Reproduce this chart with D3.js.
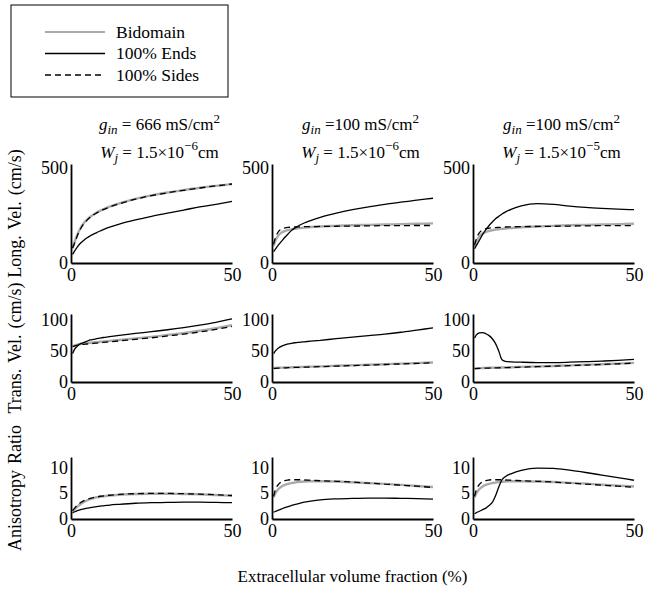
<!DOCTYPE html>
<html>
<head>
<meta charset="utf-8">
<script src="https://cdn.jsdelivr.net/npm/d3@7"></script>
<style>
  body { margin: 0; background: #fff; }
  svg, svg text { font-family: "Liberation Serif", "Times New Roman", serif; }
</style>
</head>
<body>
<svg id="chart" width="662" height="602"></svg>
<script>
// x grid shared by every curve (extracellular volume fraction, %)
const xGrid = [0.5, 1, 2, 3, 4, 5, 6, 7, 8, 9, 10, 12, 15, 20, 25, 30, 35, 40, 45, 50];

// row 1 : longitudinal velocity (cm/s), one array per column
const longBidomain = [
  [80, 105, 150, 185, 210, 228, 243, 255, 265, 274, 282, 296, 313, 337, 355, 370, 383, 395, 405, 414],
  [90, 115, 145, 160, 168, 173, 177, 180, 182, 184, 186, 189, 192, 195, 198, 200, 202, 204, 206, 208],
  [85, 110, 140, 155, 163, 168, 172, 175, 177, 179, 181, 184, 188, 192, 195, 198, 200, 202, 204, 206]
];
const longEnds = [
  [45, 60, 85, 105, 120, 133, 143, 152, 160, 168, 175, 188, 204, 226, 245, 262, 278, 295, 308, 324],
  [60, 72, 95, 115, 135, 153, 170, 183, 193, 202, 210, 223, 240, 262, 280, 295, 308, 320, 330, 340],
  [75, 90, 120, 150, 175, 197, 215, 232, 245, 257, 267, 283, 300, 312, 308, 299, 292, 287, 283, 280]
];
const longSides = [
  [78, 100, 145, 180, 206, 225, 240, 253, 263, 272, 280, 294, 311, 335, 354, 369, 382, 394, 405, 415],
  [100, 130, 165, 178, 184, 187, 188, 189, 190, 190, 191, 191, 192, 193, 194, 195, 196, 196, 197, 197],
  [95, 125, 160, 174, 180, 183, 185, 186, 187, 188, 189, 190, 191, 192, 193, 194, 195, 196, 196, 197]
];

// row 2 : transverse velocity (cm/s)
const transBidomain = [
  [58, 59, 60.5, 61.5, 62.5, 63, 63.5, 64, 64.5, 65, 65.5, 66.5, 68, 70.5, 73, 76, 79, 83, 87, 92],
  [22.5, 22.7, 23, 23.2, 23.4, 23.6, 23.8, 24, 24.1, 24.3, 24.5, 24.8, 25.3, 26.2, 27, 27.9, 28.8, 29.7, 30.6, 31.5],
  [22, 22.2, 22.4, 22.6, 22.8, 23, 23.1, 23.2, 23.4, 23.5, 23.6, 23.9, 24.4, 25.2, 26, 26.9, 27.8, 28.8, 29.8, 31]
];
const transEnds = [
  [46, 52, 58, 62, 64, 66, 68, 69, 70, 71, 72, 73.5, 75.5, 78.5, 81.5, 84.5, 88, 92, 96.5, 102],
  [46, 50, 55, 58, 60, 61.5, 62.5, 63.5, 64, 64.5, 65, 66, 67.5, 70, 72.5, 75, 77.5, 80.5, 84, 87.5],
  [71, 76, 79.5, 80, 78, 75, 70, 62, 50, 36, 33.5, 32.5, 32, 31.5, 31.5, 32, 32.8, 33.8, 35, 36.5]
];
const transSides = [
  [57, 58, 59.5, 60.5, 61, 61.5, 62, 62.5, 63, 63.5, 64, 65, 66.5, 69, 71.5, 74.5, 77.5, 81, 85, 90],
  [22, 22.2, 22.5, 22.7, 22.9, 23.1, 23.3, 23.5, 23.6, 23.8, 24, 24.3, 24.8, 25.7, 26.5, 27.4, 28.3, 29.2, 30.1, 31],
  [21.6, 21.8, 22, 22.2, 22.4, 22.6, 22.7, 22.8, 23, 23.1, 23.2, 23.5, 24, 24.8, 25.6, 26.5, 27.4, 28.4, 29.4, 30.6]
];

// row 3 : anisotropy ratio
const anisoBidomain = [
  [1.5, 1.8, 2.4, 2.9, 3.3, 3.6, 3.85, 4.05, 4.2, 4.3, 4.4, 4.55, 4.7, 4.85, 4.9, 4.9, 4.85, 4.8, 4.65, 4.5],
  [4.2, 4.9, 5.8, 6.3, 6.6, 6.8, 6.95, 7.05, 7.15, 7.2, 7.25, 7.3, 7.3, 7.25, 7.1, 6.95, 6.8, 6.6, 6.4, 6.2],
  [4.2, 4.9, 5.8, 6.3, 6.6, 6.8, 6.95, 7.05, 7.15, 7.2, 7.25, 7.3, 7.3, 7.25, 7.15, 7.0, 6.85, 6.65, 6.45, 6.3]
];
const anisoEnds = [
  [1.2, 1.35, 1.6, 1.8, 1.95, 2.1, 2.2, 2.3, 2.4, 2.5, 2.55, 2.7, 2.85, 3.05, 3.15, 3.2, 3.25, 3.25, 3.2, 3.15],
  [1.3, 1.45, 1.7, 1.95, 2.2, 2.4, 2.6, 2.8, 2.95, 3.1, 3.25, 3.45, 3.7, 3.9, 4.0, 4.05, 4.05, 4.0, 3.95, 3.85],
  [1.0, 1.2, 1.5, 1.8, 2.1, 2.6, 3.2, 4.5, 6.2, 7.6, 8.2, 8.8, 9.4, 9.85, 9.8, 9.45, 9.0, 8.5, 8.0, 7.5]
];
const anisoSides = [
  [1.6, 2.0, 2.7, 3.2, 3.55, 3.8, 4.0, 4.15, 4.3, 4.4, 4.45, 4.6, 4.75, 4.9, 4.95, 4.95, 4.9, 4.8, 4.7, 4.55],
  [4.4, 5.6, 6.7, 7.2, 7.45, 7.55, 7.6, 7.6, 7.6, 7.6, 7.55, 7.5, 7.4, 7.3, 7.15, 6.95, 6.75, 6.55, 6.35, 6.1],
  [4.4, 5.6, 6.7, 7.2, 7.45, 7.55, 7.6, 7.6, 7.6, 7.6, 7.55, 7.5, 7.4, 7.3, 7.15, 6.95, 6.75, 6.55, 6.35, 6.15]
];

// axis settings
const xTicks = [0, 50];
const rowMax = [520, 110, 12];
const rowTicks = [[0, 500], [0, 50, 100], [0, 5, 10]];
const rowLabels = ["Long. Vel. (cm/s)", "Trans. Vel. (cm/s)", "Anisotropy Ratio"];
const seriesNames = ["Bidomain", "100% Ends", "100% Sides"];
const ginText = [" = 666 mS/cm", " =100 mS/cm", " =100 mS/cm"];
const wjExp = ["\u22126", "\u22126", "\u22125"];

const rowData = [
  [longBidomain, longEnds, longSides],
  [transBidomain, transEnds, transSides],
  [anisoBidomain, anisoEnds, anisoSides]
];

// layout
const colLeft = [71, 272, 473];
const colWidth = 161;
const rowTop = [164, 314, 457];
const rowBottom = [263, 382, 519];

const styles = [
  { stroke: "#aaaaaa", width: 2.4, dash: null },
  { stroke: "#000", width: 1.3, dash: null },
  { stroke: "#000", width: 1.3, dash: "6,4" }
];

const svg = d3.select("#chart");

// legend
const lg = svg.append("g");
lg.append("rect").attr("x", 11).attr("y", 5).attr("width", 217).attr("height", 92)
  .attr("fill", "#fff").attr("stroke", "#000").attr("stroke-width", 1);
seriesNames.forEach((name, i) => {
  const yy = 32 + i * 21.5;
  lg.append("line").attr("x1", 45).attr("x2", 105).attr("y1", yy).attr("y2", yy)
    .attr("stroke", styles[i].stroke).attr("stroke-width", i == 0 ? 2 : 1.3)
    .attr("stroke-dasharray", styles[i].dash);
  lg.append("text").attr("x", 116).attr("y", yy + 5.5).attr("font-size", 17.5).text(name);
});

// column titles
for (let c = 0; c < 3; c++) {
  const cx = colLeft[c] + colWidth / 2 + 8;
  const t1 = svg.append("text").attr("x", cx).attr("y", 130).attr("text-anchor", "middle").attr("font-size", 17);
  t1.append("tspan").attr("font-style", "italic").text("g");
  t1.append("tspan").attr("font-style", "italic").attr("font-size", 13).attr("dy", 4).text("in");
  t1.append("tspan").attr("dy", -4).text(ginText[c]);
  t1.append("tspan").attr("font-size", 13).attr("dy", -7).text("2");

  const t2 = svg.append("text").attr("x", cx).attr("y", 158).attr("text-anchor", "middle").attr("font-size", 17);
  t2.append("tspan").attr("font-style", "italic").text("W");
  t2.append("tspan").attr("font-style", "italic").attr("font-size", 13).attr("dy", 4).text("j");
  t2.append("tspan").attr("dy", -4).text(" = 1.5\u00d710");
  t2.append("tspan").attr("font-size", 13).attr("dy", -8).text(wjExp[c]);
  t2.append("tspan").attr("dy", 8).text("cm");
}

// panels
for (let r = 0; r < 3; r++) {
  for (let c = 0; c < 3; c++) {
    const x = d3.scaleLinear().domain([0, 50]).range([colLeft[c], colLeft[c] + colWidth]);
    const y = d3.scaleLinear().domain([0, rowMax[r]]).range([rowBottom[r], rowTop[r]]);

    const line = d3.line().x((d, i) => x(xGrid[i])).y(d => y(d)).curve(d3.curveMonotoneX);

    rowData[r].forEach((series, s) => {
      svg.append("path").datum(series[c])
        .attr("fill", "none")
        .attr("stroke", styles[s].stroke)
        .attr("stroke-width", styles[s].width)
        .attr("stroke-dasharray", styles[s].dash)
        .attr("d", line);
    });

    const ga = svg.append("g").attr("transform", `translate(${colLeft[c]},0)`)
      .call(d3.axisLeft(y).tickValues(rowTicks[r]).tickSize(0).tickPadding(3).tickFormat(d3.format("d")));
    const gb = svg.append("g").attr("transform", `translate(0,${rowBottom[r]})`)
      .call(d3.axisBottom(x).tickValues(xTicks).tickSize(0).tickPadding(5).tickFormat(d3.format("d")));
    [ga, gb].forEach(g => {
      g.attr("font-family", null).attr("font-size", null);
      g.select(".domain").attr("stroke-width", 1.8);
      g.selectAll("text").style("font-family", "'Liberation Serif', serif").style("font-size", "18px").attr("fill", "#000");
    });
  }
  // row label
  const cy = (rowTop[r] + rowBottom[r]) / 2;
  svg.append("text").attr("transform", `translate(21,${cy}) rotate(-90)`)
    .attr("text-anchor", "middle").attr("font-size", 18).attr("word-spacing", 1.5).text(rowLabels[r]);
}

// x label
svg.append("text").attr("x", colLeft[1] + colWidth / 2).attr("y", 582)
  .attr("text-anchor", "middle").attr("font-size", 17).text("Extracellular volume fraction (%)");
</script>
</body>
</html>
